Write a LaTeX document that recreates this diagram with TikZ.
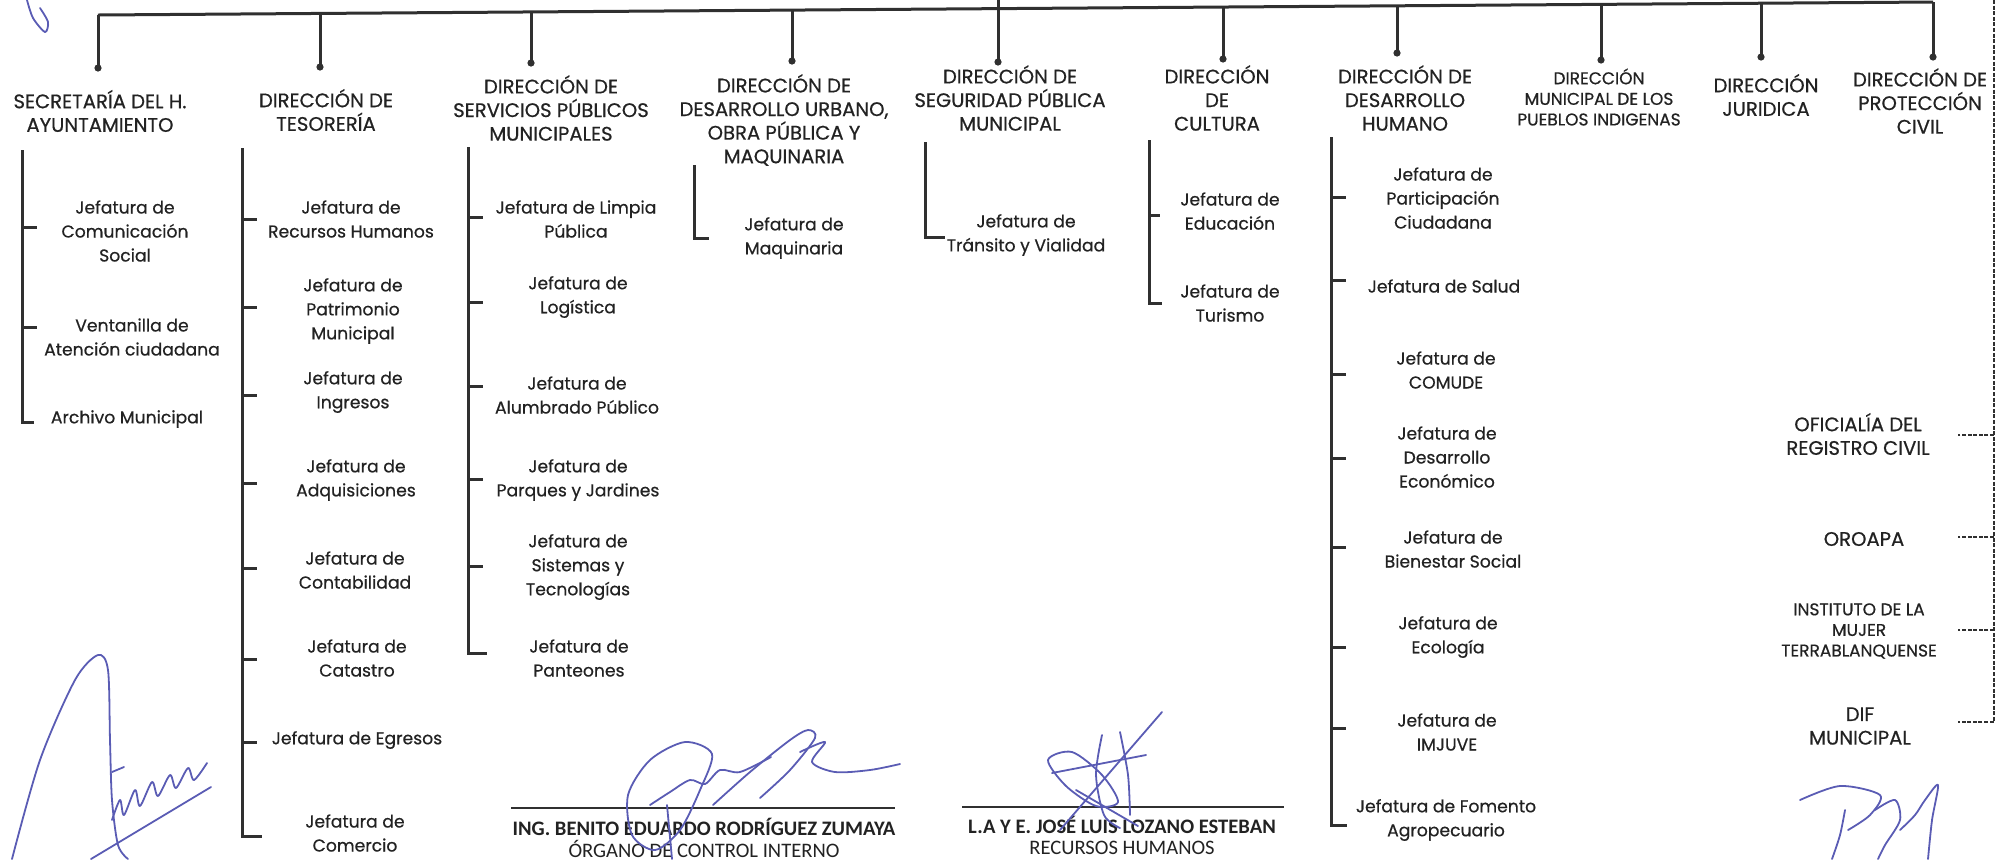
\documentclass[tikz,border=0pt]{standalone}
\usepackage{fontspec}
\setmainfont{Poppins}[FakeBold=0.6]
\newfontfamily\sigfont{Carlito}
\definecolor{ink}{HTML}{222222}
\definecolor{linec}{HTML}{303030}
\definecolor{pen}{HTML}{5A5CB4}
\tikzset{
  hd/.style={align=center, font=\fontsize{9.8}{11.8}\selectfont, text=ink, inner sep=0pt},
  jf/.style={align=center, font=\fontsize{8.6}{12}\selectfont, text=ink, inner sep=0pt},
  smallhd/.style={align=center, font=\fontsize{8.5}{10.3}\selectfont, text=ink, inner sep=0pt},
  ln/.style={draw=linec, line width=1.5pt},
  br/.style={draw=linec, line width=1.5pt},
  dsh/.style={draw=linec, line width=0.7pt, dash pattern=on 2pt off 0.8pt},
  enddot/.style={circle, fill=linec, inner sep=0pt, minimum size=3.6pt},
  signame/.style={font=\sigfont\bfseries\fontsize{10.3}{12}\selectfont, text=ink, inner sep=0pt},
  sigrole/.style={font=\sigfont\fontsize{10.3}{12}\selectfont, text=ink, inner sep=0pt},
  ink pen/.style={draw=pen, line width=0.9pt, line cap=round, line join=round}
}
\begin{document}
\begin{tikzpicture}[x=0.5pt,y=-0.5pt]
\useasboundingbox (0,0) rectangle (2005,859);

% ---------- top bar (slightly tilted like the scan) ----------
\coordinate (tup) at (998,0);
\foreach \x/\y [count=\i] in {98/15,320/13.4,531/11.9,792/10.1,998/8.6,1223/7,1397/5.8,1601/4.4,1761/3.2,1933/2}
  \coordinate (t\i) at (\x,\y);
\draw[ln] (t1) -- (t10);
\draw[ln] (t5) -- (tup);
\foreach \x/\y [count=\i] in {98/68,320/67,531/63,792/61,998/62,1223/59,1397/53,1601/60,1761/57,1933/57}{
  \node[enddot] (d\i) at (\x,\y) {};
  \draw[ln] (t\i) -- (d\i.center);
}

% ---------- headers ----------
\node[hd] (h1) at (100,111) {SECRETARÍA DEL H.\\AYUNTAMIENTO};
\node[hd] (h2) at (326,110) {DIRECCIÓN DE\\TESORERÍA};
\node[hd] (h3) at (551,108) {DIRECCIÓN DE\\SERVICIOS PÚBLICOS\\MUNICIPALES};
\node[hd] (h4) at (784,120) {DIRECCIÓN DE\\DESARROLLO URBANO,\\OBRA PÚBLICA Y\\MAQUINARIA};
\node[hd] (h5) at (1010,98) {DIRECCIÓN DE\\SEGURIDAD PÚBLICA\\MUNICIPAL};
\node[hd] (h6) at (1217,98) {DIRECCIÓN\\DE\\CULTURA};
\node[hd] (h7) at (1405,98) {DIRECCIÓN DE\\DESARROLLO\\HUMANO};
\node[smallhd] (h8) at (1599,97) {DIRECCIÓN\\MUNICIPAL DE LOS\\PUEBLOS INDIGENAS};
\node[hd] (h9) at (1766,95) {DIRECCIÓN\\JURIDICA};
\node[hd] (h10) at (1920,101) {DIRECCIÓN DE\\PROTECCIÓN\\CIVIL};

% ---------- brackets ----------
% column 1
\coordinate (a1) at (22,150); \coordinate (a2) at (22,422); \coordinate (a3) at (34,422);
\draw[br] (a1) -- (a2) -- (a3);
\foreach \y [count=\i] in {227,327}{
  \coordinate (as\i) at (22,\y); \coordinate (ae\i) at (37,\y);
  \draw[br] (as\i) -- (ae\i);}
% column 2
\coordinate (b1) at (242,148); \coordinate (b2) at (242,836); \coordinate (b3) at (262,836);
\draw[br] (b1) -- (b2) -- (b3);
\foreach \y [count=\i] in {219,307,395,483,568,659,742}{
  \coordinate (bs\i) at (242,\y); \coordinate (be\i) at (257,\y);
  \draw[br] (bs\i) -- (be\i);}
% column 3
\coordinate (c1) at (468,147); \coordinate (c2) at (468,653); \coordinate (c3) at (487,653);
\draw[br] (c1) -- (c2) -- (c3);
\foreach \y [count=\i] in {217,302,386,479,566}{
  \coordinate (cs\i) at (468,\y); \coordinate (ce\i) at (483,\y);
  \draw[br] (cs\i) -- (ce\i);}
% column 4
\coordinate (e1) at (694,165); \coordinate (e2) at (694,238); \coordinate (e3) at (709,238);
\draw[br] (e1) -- (e2) -- (e3);
% column 5
\coordinate (f1) at (925,142); \coordinate (f2) at (925,237); \coordinate (f3) at (945,237);
\draw[br] (f1) -- (f2) -- (f3);
% column 6
\coordinate (g1) at (1149,140); \coordinate (g2) at (1149,303); \coordinate (g3) at (1162,303);
\draw[br] (g1) -- (g2) -- (g3);
\coordinate (gs1) at (1149,215); \coordinate (ge1) at (1160,215);
\draw[br] (gs1) -- (ge1);
% column 7
\coordinate (k1) at (1331,137); \coordinate (k2) at (1331,825); \coordinate (k3) at (1347,825);
\draw[br] (k1) -- (k2) -- (k3);
\foreach \y [count=\i] in {197,280,374,458,547,647,728}{
  \coordinate (ks\i) at (1331,\y); \coordinate (ke\i) at (1346,\y);
  \draw[br] (ks\i) -- (ke\i);}
% dashed right column
\coordinate (m1) at (1994,0); \coordinate (m2) at (1994,722); \coordinate (m3) at (1958,722);
\draw[dsh] (m1) -- (m2) -- (m3);
\foreach \y [count=\i] in {435,537,630}{
  \coordinate (ms\i) at (1994,\y); \coordinate (me\i) at (1958,\y);
  \draw[dsh] (ms\i) -- (me\i);}

% ---------- children ----------
\node[jf] (j11) at (125,231) {Jefatura de\\Comunicación\\Social};
\node[jf] (j12) at (132,337) {Ventanilla de\\Atención ciudadana};
\node[jf] (j13) at (127,419) {Archivo Municipal};

\node[jf] (j21) at (351,219) {Jefatura de\\Recursos Humanos};
\node[jf] (j22) at (353,311) {Jefatura de\\Patrimonio\\Municipal};
\node[jf] (j23) at (353,392) {Jefatura de\\Ingresos};
\node[jf] (j24) at (356,480) {Jefatura de\\Adquisiciones};
\node[jf] (j25) at (355,570) {Jefatura de\\Contabilidad};
\node[jf] (j26) at (357,658) {Jefatura de\\Catastro};
\node[jf] (j27) at (357,740) {Jefatura de Egresos};
\node[jf] (j28) at (355,833) {Jefatura de\\Comercio};

\node[jf] (j31) at (576,219) {Jefatura de Limpia\\Pública};
\node[jf] (j32) at (578,297) {Jefatura de\\Logística};
\node[jf] (j33) at (577,395) {Jefatura de\\Alumbrado Público};
\node[jf] (j34) at (578,480) {Jefatura de\\Parques y Jardines};
\node[jf] (j35) at (578,567) {Jefatura de\\Sistemas y\\Tecnologías};
\node[jf] (j36) at (579,658) {Jefatura de\\Panteones};

\node[jf] (j41) at (794,238) {Jefatura de\\Maquinaria};
\node[jf] (j51) at (1026,235) {Jefatura de\\Tránsito y Vialidad};
\node[jf] (j61) at (1230,211) {Jefatura de\\Educación};
\node[jf] (j62) at (1230,303) {Jefatura de\\Turismo};

\node[jf] (j71) at (1443,198) {Jefatura de\\Participación\\Ciudadana};
\node[jf] (j72) at (1444,286) {Jefatura de Salud};
\node[jf] (j73) at (1446,370) {Jefatura de\\COMUDE};
\node[jf] (j74) at (1447,457) {Jefatura de\\Desarrollo\\Económico};
\node[jf] (j75) at (1453,549) {Jefatura de\\Bienestar Social};
\node[jf] (j76) at (1448,637) {Jefatura de\\Ecología};
\node[jf] (j77) at (1447,732) {Jefatura de\\IMJUVE};
\node[jf] (j78) at (1446,820) {Jefatura de Fomento\\Agropecuario};

\node[hd] (r1) at (1858,434) {OFICIALÍA DEL\\REGISTRO CIVIL};
\node[hd] (r2) at (1864,539) {OROAPA};
\node[smallhd] (r3) at (1859,631) {INSTITUTO DE LA\\MUJER\\TERRABLANQUENSE};
\node[hd] (r4) at (1860,726) {DIF\\MUNICIPAL};

% ---------- signature blocks ----------
\coordinate (s1a) at (511,808); \coordinate (s1b) at (895,808);
\draw[draw=linec, line width=0.9pt] (s1a) -- (s1b);
\node[signame] (n1) at (704,827) {ING. BENITO EDUARDO RODRÍGUEZ ZUMAYA};
\node[sigrole] (o1) at (704,849) {ÓRGANO DE CONTROL INTERNO};
\coordinate (s2a) at (962,807); \coordinate (s2b) at (1284,807);
\draw[draw=linec, line width=0.9pt] (s2a) -- (s2b);
\node[signame] (n2) at (1122,825) {L.A Y E. JOSÉ LUIS LOZANO ESTEBAN};
\node[sigrole] (o2) at (1122,848) {RECURSOS HUMANOS};

% ---------- handwritten signatures (approximate) ----------
% top-left fragment
\draw[ink pen] plot[smooth] coordinates {(27,0) (33,18) (45,32) (48,22) (40,8)};
% bottom-left
\draw[ink pen] plot[smooth] coordinates {(12,859) (40,760) (75,680) (98,655) (108,670) (110,740) (112,800) (118,845) (128,859)};
\draw[ink pen] plot[smooth] coordinates {(112,820) (120,800) (124,815) (135,790) (140,806) (152,782) (158,796) (170,775) (176,788) (188,768) (194,780) (207,763)};
\draw[ink pen] (91,859) -- (211,787);
\draw[ink pen] (112,772) -- (124,767);
% over first signature line
\draw[ink pen] plot[smooth cycle] coordinates {(628,795) (650,760) (685,742) (712,754) (700,790) (680,830) (655,850) (632,835)};
\draw[ink pen] plot[smooth] coordinates {(650,805) (670,792) (690,780) (705,784) (720,770) (740,772) (771,757)};
\draw[ink pen] plot[smooth] coordinates {(713,805) (750,772) (790,740) (808,730) (815,738) (790,770) (760,798)};
\draw[ink pen] plot[smooth] coordinates {(800,752) (825,742) (812,762) (835,772) (870,770) (900,764)};
\draw[ink pen] (667,805) -- (672,859);
% over second signature line
\draw[ink pen] (1060,830) -- (1162,712);
\draw[ink pen] plot[smooth cycle] coordinates {(1048,760) (1072,752) (1102,775) (1118,802) (1096,806) (1066,786)};
\draw[ink pen] (1052,773) -- (1146,755);
\draw[ink pen] plot[smooth] coordinates {(1102,735) (1096,775) (1104,815) (1120,828)};
\draw[ink pen] plot[smooth] coordinates {(1120,732) (1128,775) (1130,815)};
\draw[ink pen] (1076,790) -- (1138,826);
% bottom-right
\draw[ink pen] plot[smooth] coordinates {(1800,800) (1840,786) (1880,795) (1870,815) (1848,830)};
\draw[ink pen] plot[smooth] coordinates {(1845,810) (1840,835) (1832,859)};
\draw[ink pen] plot[smooth] coordinates {(1875,810) (1895,800) (1900,820) (1885,845) (1878,859)};
\draw[ink pen] plot[smooth] coordinates {(1900,830) (1915,815) (1925,800) (1938,785) (1932,820) (1928,859)};
\end{tikzpicture}
\end{document}
